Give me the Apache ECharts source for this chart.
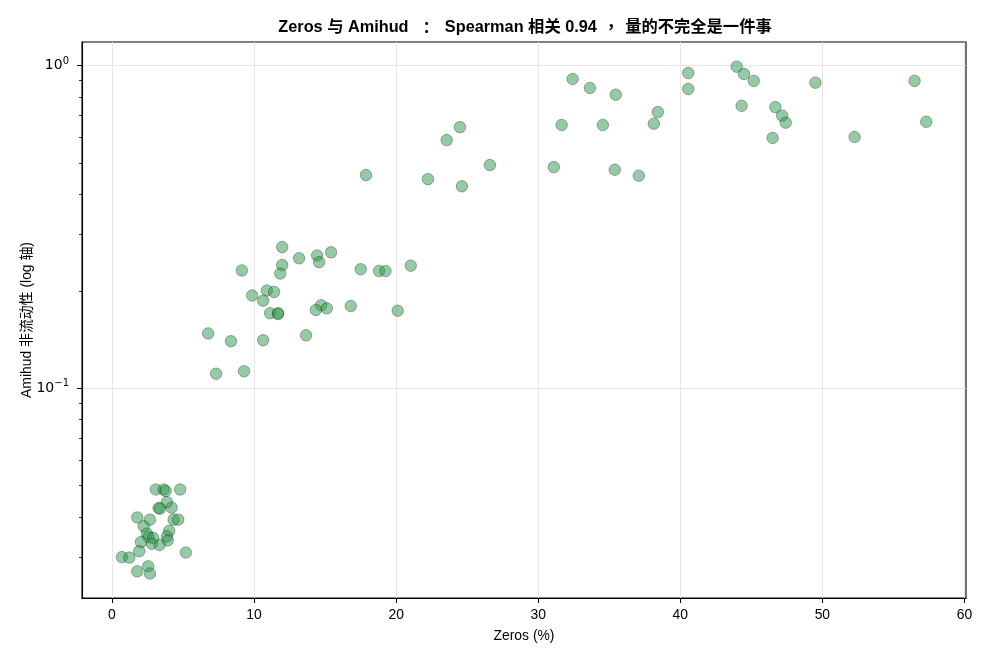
<!DOCTYPE html>
<html><head><meta charset="utf-8">
<script src="https://cdn.jsdelivr.net/npm/echarts@6/dist/echarts.min.js"></script>
<style>html,body{margin:0;padding:0;background:#fff}#c{width:990px;height:660px}</style>
</head><body><div id="c"></div>
<script>
// Zeros (%) per stock
const zerosPct = [
  3.09,3.64,3.78,4.80,3.87,3.28,3.38,4.20,1.78,2.67,4.34,4.66,2.23,4.03,2.46,2.58,2.90,3.87,3.92,2.04,2.81,3.35,1.92,5.20,0.70,1.22,1.78,2.55,2.67,
  11.98,13.17,14.44,14.58,15.42,9.14,11.98,11.84,17.51,18.80,19.25,21.03,9.87,10.90,11.41,10.64,11.13,11.69,11.69,14.72,14.35,15.12,16.81,20.11,6.77,8.37,10.64,13.66,7.33,9.30,
  17.88,22.24,23.56,24.49,24.63,26.60,32.42,33.64,35.46,31.65,34.55,38.42,38.14,31.10,35.39,37.08,40.56,40.56,43.97,44.49,45.17,49.51,44.32,46.69,47.17,47.42,46.50,52.27,56.49,57.31
];
// Amihud illiquidity per stock
const amihud = [
  0.0486,0.0486,0.0481,0.0486,0.0444,0.0426,0.0424,0.0427,0.0398,0.0392,0.0392,0.0392,0.0374,0.0362,0.0355,0.0346,0.0344,0.0348,0.0338,0.0334,0.0330,0.0327,0.0313,0.0310,0.0300,0.0299,0.0271,0.0281,0.0267,
  0.274,0.253,0.258,0.246,0.264,0.232,0.241,0.227,0.234,0.231,0.231,0.240,0.194,0.201,0.199,0.187,0.171,0.171,0.170,0.181,0.175,0.177,0.180,0.174,0.148,0.140,0.141,0.146,0.111,0.113,
  0.458,0.445,0.588,0.645,0.423,0.492,0.909,0.853,0.813,0.655,0.655,0.718,0.661,0.485,0.476,0.456,0.949,0.847,0.993,0.942,0.897,0.886,0.751,0.744,0.700,0.666,0.597,0.601,0.897,0.670
];
const xTicks = [0,10,20,30,40,50,60];
const yMajorTicks = [0.1, 1];
const yMinorTicks = [0.03,0.04,0.05,0.06,0.07,0.08,0.09,0.2,0.3,0.4,0.5,0.6,0.7,0.8,0.9];
const titleParts = ['Zeros 与 Amihud', '：', 'Spearman 相关 0.94', '，', '量的不完全是一件事'];
const xName = 'Zeros (%)';
const yName = 'Amihud 非流动性 (log 轴)';

const FONT = "'Liberation Sans', 'Noto Sans CJK SC', sans-serif";
const points = zerosPct.map((x, i) => [x, amihud[i]]);
const X_MIN = -2.11, X_MAX = 60.11, Y_MIN = 0.02241, Y_MAX = 1.184;

const titleRich = titleParts[0] + '{c|' + titleParts[1] + '}' + titleParts[2] + '{m|' + titleParts[3] + '}' + titleParts[4];

const chart = echarts.init(document.getElementById('c'), null, {renderer: 'canvas'});
chart.setOption({
  animation: false,
  backgroundColor: '#fff',
  title: {
    text: titleRich, left: 520, top: 14, textAlign: 'center',
    textStyle: {
      fontFamily: FONT, fontSize: 16.3, fontWeight: 'bold', color: '#000',
      rich: {
        c: {fontFamily: "'Noto Sans CJK TC'", fontSize: 16.3, fontWeight: 'bold', color: '#000', padding: [0, 10, 0, 10]},
        m: {fontFamily: "'Noto Sans CJK TC'", fontSize: 16.3, fontWeight: 'bold', color: '#000', padding: [0, 6, 0, 6]}
      }
    }
  },
  grid: {left: 82, top: 42, right: 24, bottom: 62, show: true, borderColor: '#000', borderWidth: 1.1, backgroundColor: 'transparent'},
  xAxis: {
    type: 'value', min: X_MIN, max: X_MAX,
    name: xName, nameLocation: 'middle', nameGap: 31,
    nameTextStyle: {fontFamily: FONT, fontSize: 13.9, color: '#000'},
    axisLine: {show: true, onZero: false, lineStyle: {color: '#000', width: 1.1}},
    axisTick: {show: true, inside: false, customValues: xTicks, length: 5, lineStyle: {color: '#000', width: 1}},
    axisLabel: {customValues: xTicks, margin: 10, fontFamily: FONT, fontSize: 13.9, color: '#000'},
    splitLine: {show: true, lineStyle: {color: '#e3e3e3', width: 0.9}}
  },
  yAxis: [{
    type: 'log', logBase: 10, min: Y_MIN, max: Y_MAX,
    name: yName, nameLocation: 'middle', nameGap: 48, nameRotate: 90, nameMoveOverlap: false,
    nameTextStyle: {fontFamily: FONT, fontSize: 13.9, color: '#000'},
    axisLine: {show: true, onZero: false, lineStyle: {color: '#000', width: 1.1}},
    axisTick: {show: true, inside: false, customValues: yMajorTicks, length: 5, lineStyle: {color: '#000', width: 1}},
    axisLabel: {
      customValues: yMajorTicks, margin: 13,
      formatter: function (v) {
        const e = Math.round(Math.log10(v));
        return '{b|10}{s|' + (e < 0 ? '\u2212' + (-e) : e) + '}';
      },
      rich: {
        b: {fontFamily: "'DejaVu Sans', sans-serif", fontSize: 14, color: '#000'},
        s: {fontFamily: "'DejaVu Sans', sans-serif", fontSize: 10, color: '#000', padding: [0, 0, 9, 0]}
      }
    },
    splitLine: {show: true, lineStyle: {color: '#e3e3e3', width: 0.9}}
  }, {
    type: 'log', logBase: 10, min: Y_MIN, max: Y_MAX, position: 'left',
    axisLine: {show: false, onZero: false},
    axisTick: {show: true, inside: false, customValues: yMinorTicks, length: 3, lineStyle: {color: '#000', width: 0.8}},
    axisLabel: {show: false},
    splitLine: {show: false}
  }],
  series: [{
    type: 'scatter', xAxisIndex: 0, yAxisIndex: 0,
    data: points, symbol: 'circle', symbolSize: 11.5,
    itemStyle: {color: 'rgba(40,150,70,0.62)', borderColor: 'rgba(20,40,25,0.75)', borderWidth: 0.6}
  }]
});
</script></body></html>
